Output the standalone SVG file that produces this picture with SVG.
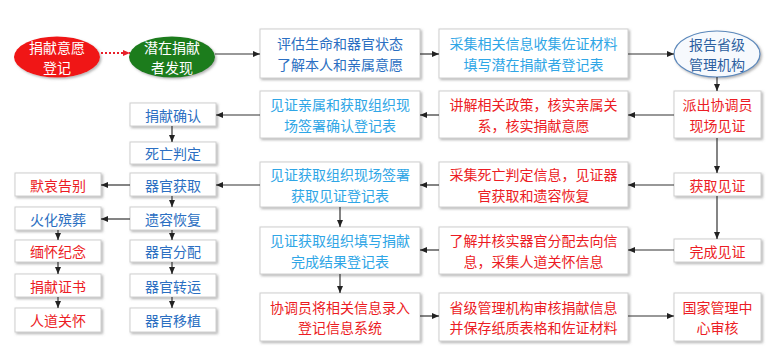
<svg xmlns="http://www.w3.org/2000/svg" width="781" height="351" viewBox="0 0 781 351">
<defs>
<filter id="sh" x="-10%" y="-10%" width="125%" height="140%">
<feDropShadow dx="1.5" dy="1.5" stdDeviation="1.2" flood-color="#777" flood-opacity="0.55"/>
</filter>
<marker id="ah" markerUnits="userSpaceOnUse" markerWidth="8" markerHeight="8" refX="7" refY="4" orient="auto">
<path d="M0,1 L7,4 L0,7 Z" fill="#222"/>
</marker>
<marker id="ahr" markerUnits="userSpaceOnUse" markerWidth="8" markerHeight="8" refX="7" refY="4" orient="auto">
<path d="M0,1 L7,4 L0,7 Z" fill="#e8202a"/>
</marker>
<style>
text{font-family:"Noto Sans CJK SC","Noto Sans",sans-serif;font-size:14px;text-anchor:middle;dominant-baseline:central;}
.box{fill:#fff;stroke:#cfcfcf;stroke-width:1;filter:url(#sh);}
.red{fill:#ec1c24;}
.blue{fill:#2b6fc2;}
.lblue{fill:#2fa6e6;}
.dblue{fill:#2d5f9f;}
.wht{fill:#fff;}
.ln{stroke:#333;stroke-width:1.2;fill:none;marker-end:url(#ah);}
</style>
</defs>

<g id="n-e1"><ellipse cx="57" cy="57" rx="43" ry="20.5" fill="#f01414" filter="url(#sh)"/><text x="57" y="46.75" class="wht">捐献意愿<tspan x="57" dy="20.5">登记</tspan></text></g>
<g id="n-e2"><ellipse cx="172" cy="57" rx="43" ry="20.5" fill="#1b7c1f" filter="url(#sh)"/><text x="172" y="46.75" class="wht">潜在捐献<tspan x="172" dy="20.5">者发现</tspan></text></g>
<g id="n-e3"><ellipse cx="717" cy="54" rx="43" ry="23" fill="#f6f9fd" stroke="#5b88bb" stroke-width="1.2" filter="url(#sh)"/><text x="717" y="43.75" class="dblue">报告省级<tspan x="717" dy="20.5">管理机构</tspan></text></g>

<g id="n-b1"><rect class="box" x="260" y="29" width="160" height="49"/><text x="340" y="43.25" class="blue">评估生命和器官状态<tspan x="340" dy="20.5">了解本人和亲属意愿</tspan></text></g>
<g id="n-b2"><rect class="box" x="439" y="29" width="189" height="49"/><text x="533.5" y="43.25" class="lblue">采集相关信息收集佐证材料<tspan x="533.5" dy="20.5">填写潜在捐献者登记表</tspan></text></g>
<g id="n-b3"><rect class="box" x="674" y="91" width="87" height="47"/><text x="717.5" y="104.25" class="red">派出协调员<tspan x="717.5" dy="20.5">现场见证</tspan></text></g>
<g id="n-b4"><rect class="box" x="439" y="91" width="189" height="47"/><text x="533.5" y="104.25" class="red">讲解相关政策，核实亲属关<tspan x="533.5" dy="20.5">系，核实捐献意愿</tspan></text></g>
<g id="n-b5"><rect class="box" x="260" y="91" width="160" height="47"/><text x="340" y="104.25" class="lblue">见证亲属和获取组织现<tspan x="340" dy="20.5">场签署确认登记表</tspan></text></g>
<g id="n-b6"><rect class="box" x="260" y="162" width="160" height="45"/><text x="340" y="174.25" class="lblue">见证获取组织现场签署<tspan x="340" dy="20.5">获取见证登记表</tspan></text></g>
<g id="n-b7"><rect class="box" x="439" y="162" width="189" height="45"/><text x="533.5" y="174.25" class="red">采集死亡判定信息，见证器<tspan x="533.5" dy="20.5">官获取和遗容恢复</tspan></text></g>
<g id="n-b8"><rect class="box" x="674" y="173" width="87" height="23"/><text x="717.5" y="184.5" class="red">获取见证</text></g>
<g id="n-b9"><rect class="box" x="674" y="239" width="87" height="23"/><text x="717.5" y="250.5" class="red">完成见证</text></g>
<g id="n-b10"><rect class="box" x="439" y="227" width="189" height="47"/><text x="533.5" y="240.25" class="red">了解并核实器官分配去向信<tspan x="533.5" dy="20.5">息，采集人道关怀信息</tspan></text></g>
<g id="n-b11"><rect class="box" x="260" y="227" width="160" height="47"/><text x="340" y="240.25" class="lblue">见证获取组织填写捐献<tspan x="340" dy="20.5">完成结果登记表</tspan></text></g>
<g id="n-b12"><rect class="box" x="260" y="293" width="160" height="48"/><text x="340" y="306.75" class="red">协调员将相关信息录入<tspan x="340" dy="20.5">登记信息系统</tspan></text></g>
<g id="n-b13"><rect class="box" x="439" y="293" width="189" height="48"/><text x="533.5" y="306.75" class="red">省级管理机构审核捐献信息<tspan x="533.5" dy="20.5">并保存纸质表格和佐证材料</tspan></text></g>
<g id="n-b14"><rect class="box" x="674" y="293" width="87" height="48"/><text x="717.5" y="306.75" class="red">国家管理中<tspan x="717.5" dy="20.5">心审核</tspan></text></g>

<g id="n-s1"><rect class="box" x="130" y="103" width="86" height="23"/><text x="173" y="114.5" class="blue">捐献确认</text></g>
<g id="n-s2"><rect class="box" x="130" y="142" width="86" height="22"/><text x="173" y="153" class="blue">死亡判定</text></g>
<g id="n-s3"><rect class="box" x="130" y="173" width="86" height="23"/><text x="173" y="184.5" class="blue">器官获取</text></g>
<g id="n-s4"><rect class="box" x="130" y="207" width="86" height="23"/><text x="173" y="218.5" class="blue">遗容恢复</text></g>
<g id="n-s5"><rect class="box" x="130" y="240" width="86" height="22"/><text x="173" y="251" class="blue">器官分配</text></g>
<g id="n-s6"><rect class="box" x="130" y="274" width="86" height="23"/><text x="173" y="285.5" class="blue">器官转运</text></g>
<g id="n-s7"><rect class="box" x="130" y="308" width="86" height="24"/><text x="173" y="320" class="blue">器官移植</text></g>

<g id="n-l1"><rect class="box" x="15" y="173" width="86" height="23"/><text x="58" y="184.5" class="red">默哀告别</text></g>
<g id="n-l2"><rect class="box" x="15" y="207" width="86" height="23"/><text x="58" y="218.5" class="blue">火化殡葬</text></g>
<g id="n-l3"><rect class="box" x="15" y="240" width="86" height="22"/><text x="58" y="251" class="red">缅怀纪念</text></g>
<g id="n-l4"><rect class="box" x="15" y="274" width="86" height="23"/><text x="58" y="285.5" class="red">捐献证书</text></g>
<g id="n-l5"><rect class="box" x="15" y="308" width="86" height="24"/><text x="58" y="320" class="red">人道关怀</text></g>

<g id="connectors">
<line x1="101" y1="53" x2="130" y2="53" stroke="#e8202a" stroke-width="2" stroke-dasharray="2 2" marker-end="url(#ahr)"/>
<line class="ln" x1="215" y1="54" x2="260" y2="54"/>
<line class="ln" x1="420" y1="54" x2="439" y2="54"/>
<line class="ln" x1="628" y1="54" x2="674" y2="54"/>
<line class="ln" x1="717" y1="77" x2="717" y2="91"/>
<line class="ln" x1="674" y1="115" x2="628" y2="115"/>
<line class="ln" x1="439" y1="115" x2="420" y2="115"/>
<line class="ln" x1="260" y1="115" x2="216" y2="115"/>
<line class="ln" x1="172" y1="126" x2="172" y2="142"/>
<line class="ln" x1="260" y1="185" x2="216" y2="185"/>
<line class="ln" x1="130" y1="185" x2="101" y2="185"/>
<line class="ln" x1="172" y1="196" x2="172" y2="207"/>
<line class="ln" x1="130" y1="219" x2="101" y2="219"/>
<line class="ln" x1="172" y1="230" x2="172" y2="240"/>
<line class="ln" x1="172" y1="262" x2="172" y2="274"/>
<line class="ln" x1="172" y1="297" x2="172" y2="308"/>
<line class="ln" x1="58" y1="230" x2="58" y2="240"/>
<line class="ln" x1="58" y1="262" x2="58" y2="274"/>
<line class="ln" x1="58" y1="297" x2="58" y2="308"/>
<line class="ln" x1="717" y1="138" x2="717" y2="173"/>
<line class="ln" x1="674" y1="185" x2="628" y2="185"/>
<line class="ln" x1="439" y1="185" x2="420" y2="185"/>
<line class="ln" x1="717" y1="196" x2="717" y2="239"/>
<line class="ln" x1="674" y1="250" x2="628" y2="250"/>
<line class="ln" x1="439" y1="250" x2="420" y2="250"/>
<line class="ln" x1="340" y1="207" x2="340" y2="227"/>
<line class="ln" x1="340" y1="274" x2="340" y2="293"/>
<line class="ln" x1="420" y1="316" x2="439" y2="316"/>
<line class="ln" x1="628" y1="316" x2="674" y2="316"/>
</g>
</svg>
